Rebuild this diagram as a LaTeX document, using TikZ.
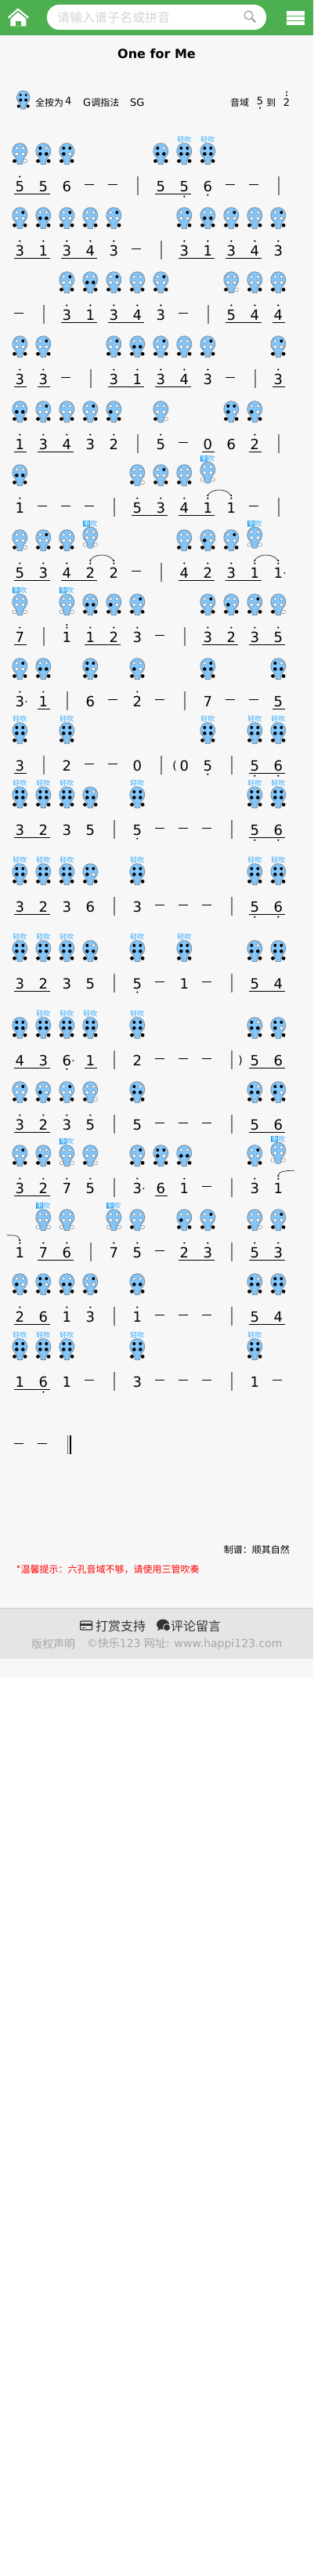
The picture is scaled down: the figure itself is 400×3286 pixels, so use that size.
\documentclass[tikz,border=0pt]{standalone}
\usepackage{fontspec}
\usepackage{xcolor}
\setmainfont{DejaVu Sans}
\newfontfamily\zhfont{Noto Sans CJK SC}
\usetikzlibrary{calc}
\definecolor{pagebg}{HTML}{F7F7F7}
\definecolor{headbg}{HTML}{4CAF50}
\definecolor{footbg}{HTML}{E5E5E5}
\definecolor{bodyblue}{HTML}{82C6FB}
\definecolor{bodyedge}{HTML}{6F7F8C}
\definecolor{tagblue}{HTML}{2EA8FF}
\definecolor{tagbox}{HTML}{0A96F5}
\newcommand{\zh}[1]{{\zhfont #1}}
\newcommand{\px}[1]{\fontsize{#1}{#1}\selectfont}
\newcommand{\holes}[6]{%
  \path[hole#1] (-4,6.3) circle (2);
  \path[hole#2] (4,6.3) circle (2);
  \path[hole#3] (-4,13.7) circle (2.3);
  \path[hole#4] (4,13.7) circle (2.3);
  \path[hole#5] (-6.8,22.7) circle (2.4);
  \path[hole#6] (6.8,22.7) circle (2.4);
}
\newcommand{\holerow}[3][0]{%
  \foreach \c/\h/\k in {#3} {
    \pic at ({25.3+30*\c},{#2-55.3-#1}) {ocar=\h};
    \pic (t#2c\c) at ({25.3+30*\c},{#2-59.8-#1}) {tag\k};
  }
}
\newcommand{\numrow}[5]{%
  \foreach \c/\d/\m in {#2} {
    \node[num] (n#1c\c) at ({25.3+30*\c},#1) {\d};
    \pic at (n#1c\c) {mk\m};
  }
  \foreach \c in {#3} \draw[rest] ({18+30*\c},#1-2.3) -- ({30+30*\c},#1-2.3);
  \foreach \c in {#4} \draw[barline] ({26+30*\c},#1-13) -- ({26+30*\c},#1+11);
  \foreach \a/\b in {#5} \draw[beam] ($(n#1c\a)+(-7.3,9.3)$) -- ($(n#1c\b)+(8.7,9.3)$);
}
\tikzset{
  hole0/.style={fill=white,draw=bodyedge,line width=.5},
  hole1/.style={fill=black},
  ocar/.pic={
    \draw[fill=bodyblue,draw=bodyedge,line width=.7] (0,0) .. controls (5.5,0) and (9.5,4.5) .. (9.5,10.5)
      .. controls (9.5,16) and (4.5,18) .. (3.6,22) -- (3.3,26.5) .. controls (2,27.2) and (-2,27.2) .. (-3.3,26.5)
      -- (-3.6,22) .. controls (-4.5,18) and (-9.5,16) .. (-9.5,10.5) .. controls (-9.5,4.5) and (-5.5,0) .. (0,0) -- cycle;
    \expandafter\holes#1
  },
  tagn/.pic={},
  tagq/.pic={\node[softtag] (lab) {轻吹};},
  tagz/.pic={\node[softtag] (lab) {\setlength{\fboxsep}{0pt}\colorbox{tagbox}{\textcolor{white}{重}}吹};},
  mko/.pic={},
  mka/.pic={\fill (0,-12.5) circle (1.2);},
  mkt/.pic={\fill (0,-16) circle (1.2); \fill (0,-12.3) circle (1.2);},
  mkb/.pic={\fill (0,10.7) circle (1.2);},
  mku/.pic={\fill (0,12.7) circle (1.2);},
  mkar/.pic={\fill (0,-12.5) circle (1.2); \fill (8,0) circle (1);},
  mktr/.pic={\fill (0,-16) circle (1.2); \fill (0,-12.3) circle (1.2); \fill (8,0) circle (1);},
  mkbr/.pic={\fill (0,10.7) circle (1.2); \fill (8,0) circle (1);},
}
\begin{document}
\begin{tikzpicture}[
  x=1pt,y=-1pt,
  num/.style={font=\px{18},inner sep=0pt,text height=13.1pt,text depth=0pt},
  softtag/.style={font=\px{9}\zhfont,text=tagblue,inner sep=0pt},
  plain/.style={anchor=west,inner sep=0pt,font=\px{12}\zhfont},
  paren/.style={font=\px{14},inner sep=0pt},
  rest/.style={line width=1.3,black},
  barline/.style={line width=2,black!50},
  beam/.style={line width=1,black},
  tie/.style={line width=.7,black!85},
  foot/.style={inner sep=0pt,anchor=west,font=\px{16}\zhfont,text=black!80},
  fine/.style={inner sep=0pt,anchor=west,font=\px{14},text=black!35},
]
\useasboundingbox (0,0) rectangle (400,3286);
\fill[white] (0,0) rectangle (400,3286);
\fill[pagebg] (0,0) rectangle (400,2140);
\fill[headbg] (0,0) rectangle (400,45);
% header
\draw[white,line width=2] (10.5,22.7) -- (23,11.8) -- (36.2,22.7);
\fill[white] (13.3,24) -- (23,15.5) -- (33.3,24) -- (33.3,33.5) -- (13.3,33.5) -- cycle;
\fill[headbg] (20,27.3) rectangle (26.7,33.5);
\fill[white,rounded corners=15.5] (60,6) rectangle (340,38);
\node[plain,font=\px{16}\zhfont,text=black!17] (search) at (73,22) {请输入谱子名或拼音};
\draw[black!35,line width=1.4] (317.5,19.5) circle (5.4);
\draw[black!35,line width=2.4] (321.6,23.6) -- (326.3,28.3);
\fill[white] (366,14) rectangle (389,19.6);
\fill[white] (366,20.6) rectangle (389,26);
\fill[white] (366,27) rectangle (389,32);
\node[inner sep=0pt,font=\px{16}\bfseries] (title) at (200,69) {One for Me};
% legend
\pic[scale=.87] at (29.7,115.7) {ocar=111111};
\node[plain] (l1) at (45,130.5) {全按为};
\node[plain,font=\px{13}] (l2) at (83,129) {4};
\node[plain] (l3) at (106,130.5) {\px{13}{\rmfamily G}\px{12}调指法};
\node[plain,font=\px{13}] (l4) at (166,130.5) {SG};
\node[plain] (l5) at (294,130.5) {音域};
\node[plain,font=\px{13},anchor=center] (l6) at (332,129) {5};
\fill (332,137.7) circle (1.2);
\node[plain] (l7) at (340,130.5) {到};
\node[plain,font=\px{13},anchor=center] (l8) at (366,131) {2};
\fill (366,117.5) circle (1.2);
\fill (366,121.5) circle (1.2);
% rows
\holerow{238}{0/000010/n,1/101111/n,2/111011/n,6/101111/n,7/111111/q,8/111111/q}
\numrow{238}{0/5/a,1/5/o,2/6/o,6/5/o,7/5/u,8/6/b}{3,4,9,10}{5,11}{0/1,6/7}
\holerow{320}{0/010011/n,1/001111/n,2/010011/n,3/000011/n,4/010011/n,7/010011/n,8/001111/n,9/010011/n,10/000011/n,11/010011/n}
\numrow{320}{0/3/a,1/1/a,2/3/a,3/4/a,4/3/a,7/3/a,8/1/a,9/3/a,10/4/a,11/3/a}{5}{6}{0/1,2/3,7/8,9/10}
\holerow{402}{2/010011/n,3/001111/n,4/010011/n,5/000011/n,6/010011/n,9/000010/n,10/000011/n,11/000011/n}
\numrow{402}{2/3/a,3/1/a,4/3/a,5/4/a,6/3/a,9/5/a,10/4/a,11/4/a}{0,7}{1,8}{2/3,4/5,9/10,11/11}
\holerow{484}{0/010011/n,1/010011/n,4/010011/n,5/001111/n,6/010011/n,7/000011/n,8/010011/n,11/010011/n}
\numrow{484}{0/3/a,1/3/a,4/3/a,5/1/a,6/3/a,7/4/a,8/3/a,11/3/a}{2,9}{3,10}{0/0,1/1,4/5,6/7,11/11}
\holerow{567}{0/001111/n,1/010011/n,2/000011/n,3/010011/n,4/001011/n,6/000010/n,9/111011/n,10/001011/n}
\numrow{567}{0/1/a,1/3/a,2/4/a,3/3/a,4/2/a,6/5/a,8/0/o,9/6/o,10/2/a}{7}{5,11}{0/0,1/2,8/8,10/10}
\holerow{648}{0/001111/n,5/000010/n,6/010011/n,7/000011/n}
\holerow[3.5]{648}{8/000000/z}
\numrow{648}{0/1/a,5/5/a,6/3/a,7/4/a,8/1/t,9/1/t}{1,2,3,10}{4,11}{5/6,7/8}
\draw[tie] ($(n648c8)+(-.4,-15.5)$) .. controls +(4,-10) and +(-4,-10) .. ($(n648c9)+(-.4,-15.5)$);
\holerow{731}{0/000010/n,1/010011/n,2/000011/n,7/000011/n,8/001011/n,9/010011/n}
\holerow[3.5]{731}{3/000000/z,10/000000/z}
\numrow{731}{0/5/a,1/3/a,2/4/a,3/2/t,4/2/t,7/4/a,8/2/a,9/3/a,10/1/t,11/1/tr}{5}{6}{0/1,2/3,7/8,9/10}
\draw[tie] ($(n731c3)+(-.4,-15.5)$) .. controls +(4,-10) and +(-4,-10) .. ($(n731c4)+(-.4,-15.5)$);
\draw[tie] ($(n731c10)+(-.4,-15.5)$) .. controls +(4,-10) and +(-4,-10) .. ($(n731c11)+(-.4,-15.5)$);
\holerow{813}{0/000000/z,2/000000/z,3/001111/n,4/001011/n,5/010011/n,8/010011/n,9/001011/n,10/010011/n,11/000010/n}
\numrow{813}{0/7/a,2/1/t,3/1/a,4/2/a,5/3/a,8/3/a,9/2/a,10/3/a,11/5/a}{6}{1,7}{0/0,3/4,8/9,10/11}
\holerow{895}{0/010011/n,1/001111/n,3/111011/n,5/001011/n,8/011111/n,11/101111/n}
\numrow{895}{0/3/ar,1/1/a,3/6/o,5/2/a,8/7/o,11/5/o}{4,6,9,10}{2,7}{1/1,11/11}
\holerow{977}{0/111111/q,2/111111/q,8/111111/q,10/111111/q,11/111111/q}
\numrow{977}{0/3/o,2/2/o,5/0/o,7/0/o,8/5/b,10/5/u,11/6/u}{3,4}{1,6,9}{0/0,10/11}
\node[paren] (open) at (223,977) {(};
\holerow{1059}{0/111111/q,1/111111/q,2/111111/q,3/101111/n,5/111111/q,10/111111/q,11/111111/q}
\numrow{1059}{0/3/o,1/2/o,2/3/o,3/5/o,5/5/b,10/5/u,11/6/u}{6,7,8}{4,9}{0/1,10/11}
\holerow{1157}{0/111111/q,1/111111/q,2/111111/q,3/111011/n,5/111111/q,10/111111/q,11/111111/q}
\numrow{1157}{0/3/o,1/2/o,2/3/o,3/6/o,5/3/o,10/5/u,11/6/u}{6,7,8}{4,9}{0/1,10/11}
\holerow{1255}{0/111111/q,1/111111/q,2/111111/q,3/101111/n,5/111111/q,7/111111/q,10/101111/n,11/111111/n}
\numrow{1255}{0/3/o,1/2/o,2/3/o,3/5/o,5/5/b,7/1/o,10/5/o,11/4/o}{6,8}{4,9}{0/1,10/11}
\holerow{1353}{0/111111/n,1/111111/q,2/111111/q,3/111111/q,5/111111/q,10/101111/n,11/111011/n}
\numrow{1353}{0/4/o,1/3/o,2/6/br,3/1/o,5/2/o,10/5/o,11/6/o}{6,7,8}{4,9}{0/1,3/3,10/11}
\node[paren] (close) at (307,1353) {)};
\holerow{1435}{0/010011/n,1/001011/n,2/010011/n,3/000010/n,5/101111/n,10/101111/n,11/111011/n}
\numrow{1435}{0/3/a,1/2/a,2/3/a,3/5/a,5/5/o,10/5/o,11/6/o}{6,7,8}{4,9}{0/1,10/11}
\holerow{1516}{0/010011/n,1/001011/n,2/000000/z,3/000010/n,5/010011/n,6/111011/n,7/001111/n,10/010011/n}
\holerow[3.5]{1516}{11/000000/z}
\numrow{1516}{0/3/a,1/2/a,2/7/a,3/5/a,5/3/ar,6/6/o,7/1/a,10/3/a,11/1/t}{8}{4,9}{0/1,6/6}
\coordinate (tieout) at (376,1493.3);
\draw[tie] ($(n1516c11)+(-.4,-15.5)$) .. controls +(.5,-6.5) and +(-12,0) .. (tieout);
\holerow{1598}{1/000000/z,2/000000/n,4/000000/z,5/000010/n,7/001011/n,8/010011/n,10/000010/n,11/010011/n}
\numrow{1598}{0/1/t,1/7/a,2/6/a,4/7/a,5/5/a,7/2/a,8/3/a,10/5/a,11/3/a}{6}{3,9}{1/2,7/8,10/11}
\coordinate (tiein) at (9,1575.7);
\draw[tie] (tiein) .. controls +(12,0) and +(-.5,-6.5) .. ($(n1598c0)+(-.4,-15.5)$);
\holerow{1680}{0/001011/n,1/111011/n,2/001111/n,3/010011/n,5/001111/n,10/101111/n,11/111111/n}
\numrow{1680}{0/2/a,1/6/o,2/1/a,3/3/a,5/1/a,10/5/o,11/4/o}{6,7,8}{4,9}{0/1,10/11}
\holerow{1763}{0/111111/q,1/111111/q,2/111111/q,5/111111/q,10/111111/q}
\numrow{1763}{0/1/o,1/6/u,2/1/o,5/3/o,10/1/o}{3,6,7,8,11}{4,9}{0/1}
\foreach \c in {0,1} \draw[rest] ({18+30*\c},1841.7) -- ({30+30*\c},1841.7);
\draw[line width=1,black!60] (86,1831) -- (86,1855);
\draw[line width=2.6,black] (90,1831) -- (90,1855);
% notes
\node[plain,anchor=east] (maker) at (370,1976.7) {制谱：顺其自然};
\node[plain,text=red] (hint) at (20.7,2002) {*温馨提示：六孔音域不够，请使用三管吹奏};
% footer
\fill[footbg] (0,2051) rectangle (400,2116);
\draw[black!20,line width=.8] (0,2051) -- (400,2051);
\draw[black!80,line width=1.2,rounded corners=1] (102.6,2068) rectangle (117.4,2079);
\fill[black!80] (102.6,2070.5) rectangle (117.4,2073.5);
\fill[black!80] (104.5,2076) rectangle (109,2077);
\node[foot] (pay) at (122,2074) {打赏支持};
\fill[black!80] (208,2072) ellipse (8 and 6.5);
\fill[black!80] (203,2076) -- (201,2080) -- (208,2077) -- cycle;
\draw[fill=black!80,draw=footbg,line width=.8] (213,2076) circle (4.6);
\node[foot] (talk) at (218,2074) {评论留言};
\node[fine,font=\px{14}\zhfont] (rights) at (40,2097) {版权声明};
\node[fine] (site) at (110.7,2097) {©\zh{快乐}123 \zh{网址}: www.happi123.com};
\end{tikzpicture}
\end{document}
